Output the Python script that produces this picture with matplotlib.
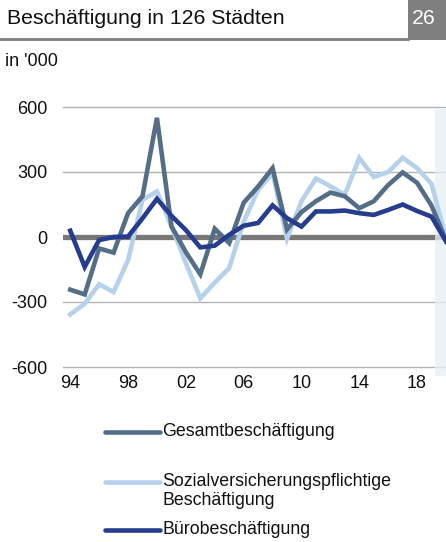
#!/usr/bin/env python3
"""Beschäftigung in 126 Städten – Veränderung in '000."""

import matplotlib

matplotlib.use("Agg")
import matplotlib.pyplot as plt
from matplotlib.lines import Line2D
from matplotlib.patches import Rectangle

YEARS = list(range(1994, 2021))

GESAMT = [-243, -265, -53, -72, 110, 188, 550, 50, -70, -172, 38, -28, 158,
          233, 318, 35, 115, 165, 205, 188, 133, 165, 240, 298, 250, 145, -15]
SOZIAL = [-357, -308, -218, -254, -107, 172, 210, 50, -120, -283, -210, -143, 70,
          218, 296, -8, 165, 270, 234, 195, 365, 277, 300, 366, 318, 245, -8]
BUERO = [29, -138, -14, 0, 2, 86, 176, 98, 32, -48, -40, 10, 52,
         65, 146, 87, 48, 118, 118, 122, 110, 102, 125, 150, 120, 94, -20]

LABELS = ["Gesamtbeschäftigung",
          "Sozialversicherungspflichtige\nBeschäftigung",
          "Bürobeschäftigung"]
COLORS = ["#546e87", "#b5d1ec", "#263c8e"]

YTICKS = [-600, -300, 0, 300, 600]
XTICKS = list(range(1994, 2019, 4))
FORECAST_START = 2019.25

W, H = 446, 542


def px(x, y):
    """pixel (from top-left) -> figure fraction"""
    return x / W, 1 - y / H


def main() -> None:
    plt.rcParams.update({"font.family": ["Liberation Sans", "DejaVu Sans"]})
    fig = plt.figure(figsize=(W / 100, H / 100), dpi=100)

    # header
    fig.text(*px(7, 19), "Beschäftigung in 126 Städten", fontsize=15.3,
             va="center", ha="left", color="#111111")
    fig.add_artist(Rectangle(px(408, 40), 38 / W, 40 / H, transform=fig.transFigure,
                             color="#7f7f7f", lw=0))
    fig.text(*px(424, 19), "26", fontsize=15.3, color="white", va="center", ha="center")
    fig.add_artist(Line2D([0, 408 / W], [1 - 39 / H] * 2, transform=fig.transFigure,
                          color="#7f7f7f", lw=2))
    fig.text(*px(5, 61), "in '000", fontsize=13, va="center", ha="left", color="#111111")

    ax = fig.add_axes([63 / W, 175 / H, 383 / W, 260 / H])
    ax.set_xlim(1993.5, 2020.0)
    ax.set_ylim(-600, 600)

    for v in YTICKS:
        if v == 0:
            ax.axhline(0, color="#777777", lw=3.8, zorder=2)
        else:
            ax.axhline(v, color="#b3b3b3", lw=1.0, zorder=1, clip_on=False)

    ax.fill_between([FORECAST_START, 2021], [590, 590], [-640, -640],
                    color="#e6eff5", alpha=0.75, lw=0, zorder=3, clip_on=False)

    for vals, color in zip([SOZIAL, GESAMT, BUERO], [COLORS[1], COLORS[0], COLORS[2]]):
        ax.plot(YEARS, vals, color=color, lw=3.3, solid_joinstyle="miter", zorder=4)

    ax.set_yticks(YTICKS)
    ax.set_yticklabels([str(v) for v in YTICKS])
    ax.set_xticks(XTICKS)
    ax.set_xticklabels([f"{y % 100:02d}" for y in XTICKS])
    ax.tick_params(axis="both", length=0, labelsize=13, labelcolor="#111111")
    ax.tick_params(axis="y", pad=11)
    ax.tick_params(axis="x", pad=6)
    for spine in ax.spines.values():
        spine.set_visible(False)

    # legend
    rows = [432, 482, 530]
    for label, color, y in zip(LABELS, COLORS, rows):
        fig.add_artist(Line2D([105 / W, 160 / W], [1 - y / H] * 2,
                              transform=fig.transFigure, color=color, lw=3.3,
                              solid_capstyle="round"))
        fig.text(*px(162, y - 9), label, fontsize=12.8, va="top", ha="left",
                 color="#111111", linespacing=1.15)

    fig.savefig("out.png", dpi=100)


if __name__ == "__main__":
    main()
